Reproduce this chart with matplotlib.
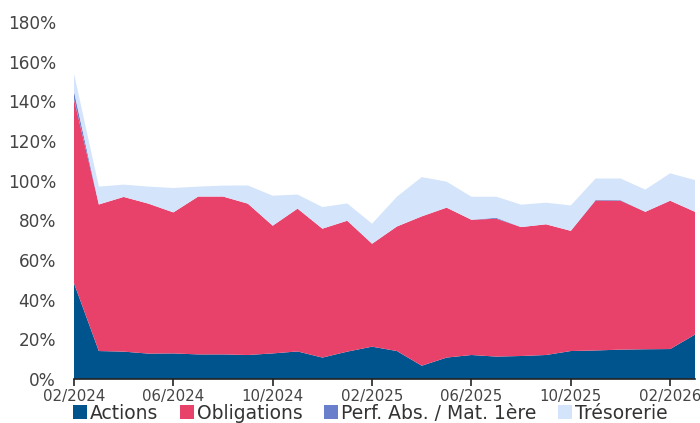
import matplotlib
matplotlib.use("Agg")
import matplotlib.pyplot as plt
from matplotlib.patches import Patch
import numpy as np

months = ["02/2024","03/2024","04/2024","05/2024","06/2024","07/2024","08/2024","09/2024",
          "10/2024","11/2024","12/2024","01/2025","02/2025","03/2025","04/2025","05/2025",
          "06/2025","07/2025","08/2025","09/2025","10/2025","11/2025","12/2025","01/2026",
          "02/2026","03/2026"]
actions = [48.3,14.1,13.8,12.8,12.9,12.4,12.4,12.1,12.9,13.9,10.8,13.8,16.3,14.1,6.7,10.8,
           12.1,11.3,11.6,12.1,14.1,14.4,14.8,15.0,15.1,22.4]
obligations = [92.7,73.9,78.0,75.6,71.1,79.6,79.6,76.3,64.4,72.0,65.0,66.0,51.9,62.8,75.3,75.6,
               68.2,69.5,65.0,65.9,60.6,75.6,75.1,69.3,74.8,61.9]
perf_abs = [4.0,0,0,0,0,0,0,0,0,0,0,0,0,0,0,0,0,0.5,0,0,0,0.3,0.3,0,0,0]
tresorerie = [9.0,9.0,6.2,8.6,12.3,5.0,5.5,9.2,15.1,7.1,10.9,8.7,10.1,15.0,19.8,13.1,11.6,10.6,
              11.3,10.9,12.8,10.8,10.9,11.2,13.8,16.0]
tick_labels = ["02/2024","06/2024","10/2024","02/2025","06/2025","10/2025","02/2026"]
y_ticks = [0,20,40,60,80,100,120,140,160,180]

colors = ["#00548E", "#E8426B", "#6A7FCB", "#D3E4FB"]
names = ["Actions", "Obligations", "Perf. Abs. / Mat. 1ère", "Trésorerie"]

x = np.arange(len(months))
fig = plt.figure(figsize=(7, 4.23), dpi=100)
ax = fig.add_axes([74/700, 44/423, 621/700, 357/423])
ax.stackplot(x, actions, obligations, perf_abs, tresorerie, colors=colors, linewidth=0)

ax.set_xlim(0, len(months) - 1)
ax.set_ylim(0, 180)
ax.set_yticks(y_ticks)
ax.set_yticklabels([f"{v}%" for v in y_ticks])
tick_pos = [months.index(t) for t in tick_labels]
ax.set_xticks(tick_pos)
ax.set_xticklabels(tick_labels)
for s in ["top", "right", "left"]:
    ax.spines[s].set_visible(False)
ax.spines["bottom"].set_color("#222222")
ax.spines["bottom"].set_linewidth(1.2)
ax.tick_params(axis="y", length=0, labelsize=12.2, labelcolor="#444444", pad=13)
ax.tick_params(axis="x", length=5, width=1.2, color="#222222", labelsize=10.8,
               labelcolor="#444444", pad=2)

handles = [Patch(facecolor=c, edgecolor="none") for c in colors]
fig.legend(handles, names, loc="center left", bbox_to_anchor=(73/700, 10/423), ncol=4,
           frameon=False, fontsize=13.5, handlelength=0.75, handleheight=0.75,
           handletextpad=0.15, columnspacing=1.15, labelcolor="#333333",
           borderpad=0, borderaxespad=0)

fig.savefig("out.png", dpi=100)
